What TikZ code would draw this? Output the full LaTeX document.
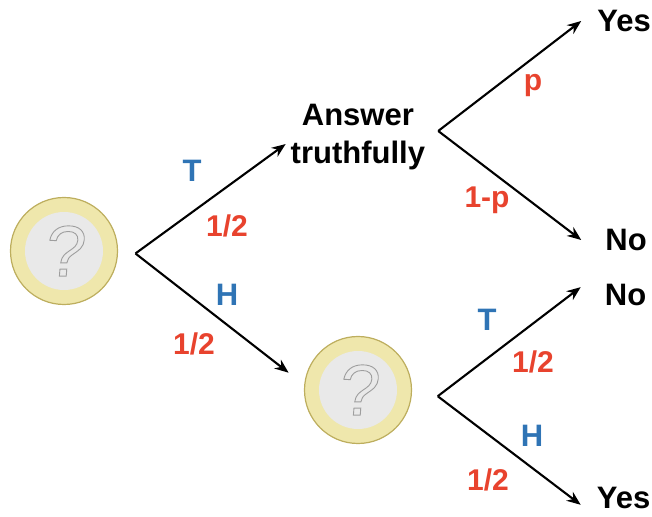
\documentclass[tikz,border=0pt]{standalone}
\usepackage{fontspec}
\setmainfont{Liberation Sans}
\newfontfamily\markfont[FakeSlant=0.08]{Liberation Sans}
\usetikzlibrary{positioning,arrows.meta}
\definecolor{coinring}{HTML}{EFE7AC}
\definecolor{coinedge}{HTML}{BDAE5E}
\definecolor{coinface}{HTML}{E9E9E9}
\definecolor{probred}{HTML}{E8432E}
\definecolor{sideblue}{HTML}{2F74B5}
\newcommand{\outlinemark}{\special{pdf:code q 1 Tr 0.9 w 0.62 G}?\special{pdf:code Q}}

\begin{document}
\begin{tikzpicture}[
  x=1pt, y=1pt,
  node distance=10pt,
  coin/.style={circle, draw=coinedge, fill=coinring, line width=1.2pt,
               minimum size=107pt, inner sep=0pt, outer sep=18pt},
  face/.style={circle, fill=coinface, minimum size=78pt, inner sep=0pt,
               font=\fontsize{72}{72}\selectfont\markfont},
  word/.style={font=\fontsize{31}{38}\selectfont\bfseries, align=center,
               inner sep=0pt, text height=22pt, text depth=0pt},
  yesword/.style={word, inner xsep=16pt},
  noword/.style={word, inner xsep=24pt},
  side/.style={font=\fontsize{31}{31}\selectfont\bfseries, text=sideblue,
               inner sep=0pt},
  prob/.style={font=\fontsize{30}{30}\selectfont\bfseries, text=probred,
               inner sep=0pt},
  arr/.style={-{Stealth[length=14pt, width=11pt]}, line width=2.1pt}
]
\useasboundingbox (0,0) rectangle (652,516);

\node[coin] (coinA) at (64,265) {};
\node[face] (faceA) at (coinA.center) {\outlinemark};
\node[coin, right=151pt of coinA, yshift=-139pt] (coinB) {};
\node[face] (faceB) at (coinB.center) {\outlinemark};
\node[word, right=155pt of coinA, yshift=114pt, text height=, text depth=] (truth)
  {Answer\\ truthfully};
\coordinate[right=13pt of truth, yshift=6pt] (forkT);
\coordinate[right=8.5pt of coinB.-5] (forkC);

\node[yesword, right=143pt of forkT, yshift=110pt] (yesT) {Yes};
\node[noword, right=143pt of forkT, yshift=-109pt] (noT) {No};
\node[noword, right=143pt of forkC, yshift=102pt] (noC) {No};
\node[yesword, right=143pt of forkC, yshift=-101pt] (yesC) {Yes};

% labels on the branches
\node[side] (tailA) at (192,345) {T};
\node[prob] (halfA) at (227,290) {1/2};
\node[side] (headA) at (227,221) {H};
\node[prob] (halfB) at (194,172) {1/2};
\node[prob] (probP) at (533,430) {p};
\node[prob] (probQ) at (487,316) {1-p};
\node[side] (tailC) at (487,196) {T};
\node[prob] (halfC) at (533,154) {1/2};
\node[side] (headC) at (532,80) {H};
\node[prob] (halfD) at (488,36) {1/2};

\draw[arr, shorten >=6pt] (coinA.-2) -- (truth.183);
\draw[arr] (coinA.-2) -- (coinB.166);
\draw[arr] (forkT) -- (yesT.west);
\draw[arr] (forkT) -- (noT.west);
\draw[arr] (forkC) -- (noC.171);
\draw[arr] (forkC) -- (yesC.190);
\end{tikzpicture}
\end{document}
